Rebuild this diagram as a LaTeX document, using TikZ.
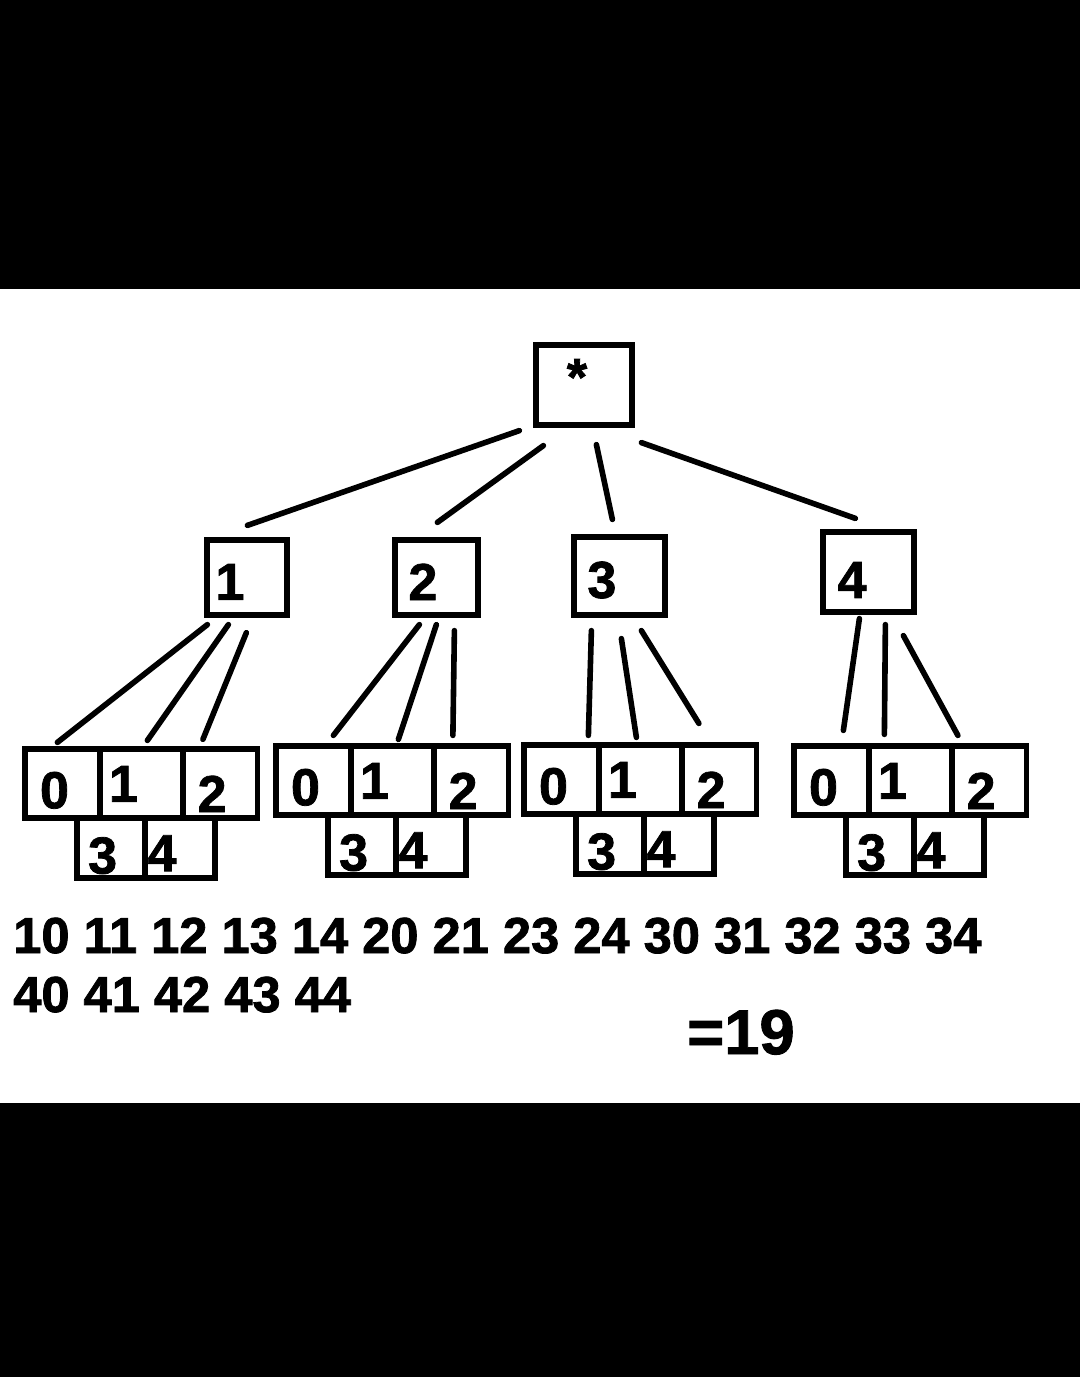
\documentclass[tikz,border=0pt]{standalone}
\usepackage{fontspec}
\setmainfont{Liberation Sans}[BoldFeatures={FakeBold=1.5}]
\usetikzlibrary{calc}

\begin{document}
\begin{tikzpicture}[
    x=0.025cm, y=-0.025cm,
    box/.style={draw, line width=0.13cm, inner sep=0pt},
    toprow/.style={box, minimum height=1.725cm},
    botrow/.style={box, minimum height=1.5cm},
    lbl/.style={inner sep=0pt, font=\bfseries\fontsize{37}{40}\selectfont},
    l0/.style={lbl, xshift=-0.2cm, yshift=-0.17cm},
    l1/.style={lbl, xshift=-0.45cm, yshift=-0.01cm},
    l2/.style={lbl, xshift=-0.21cm, yshift=-0.26cm},
    l3/.style={lbl, xshift=-0.21cm, yshift=-0.19cm},
    l4/.style={lbl, xshift=-0.45cm, yshift=-0.13cm},
    numrow/.style={anchor=base west, inner sep=0pt, font=\bfseries\fontsize{36}{40}\selectfont},
    conn/.style={line width=0.14cm, line cap=round}
]
\useasboundingbox (0,0) rectangle (1080,1377);
\fill[black] (0,0) rectangle (1080,1377);
\fill[white] (0,289) rectangle (1080,1103);

% root and first level
\node[box, minimum width=2.4cm, minimum height=2cm, label={[lbl, xshift=-0.175cm, yshift=0.2cm]center:*}] (root) at (584,385) {};
\node[box, minimum width=2cm, minimum height=1.875cm, label={[lbl, xshift=-0.425cm, yshift=-0.11cm]center:1}] (b1) at (247,577.5) {};
\node[box, minimum width=2.075cm, minimum height=1.875cm, label={[lbl, xshift=-0.34cm, yshift=-0.11cm]center:2}] (b2) at (436.5,577.5) {};
\node[box, minimum width=2.275cm, minimum height=1.95cm, label={[lbl, xshift=-0.44cm, yshift=-0.1cm]center:3}] (b3) at (619.5,576) {};
\node[box, minimum width=2.275cm, minimum height=2cm, label={[lbl, xshift=-0.41cm, yshift=-0.2cm]center:4}] (b4) at (868.5,572) {};

% second level, group 1
\node[toprow, minimum width=1.875cm, label={[l0]center:0}] (c10) at (62.5,783.5) {};
\node[toprow, minimum width=2.075cm, label={[l1]center:1}] (c11) at (141.5,783.5) {};
\node[toprow, minimum width=1.85cm, label={[l2]center:2}] (c12) at (220.5,783.5) {};
\node[botrow, minimum width=1.7cm, label={[l3]center:3}] (c13) at (111,848) {};
\node[botrow, minimum width=1.75cm, label={[l4]center:4}] (c14) at (180,848) {};

% group 2
\node[toprow, minimum width=1.875cm, label={[l0]center:0}] (c20) at (313.5,780.5) {};
\node[toprow, minimum width=2.075cm, label={[l1]center:1}] (c21) at (392.5,780.5) {};
\node[toprow, minimum width=1.85cm, label={[l2]center:2}] (c22) at (471.5,780.5) {};
\node[botrow, minimum width=1.7cm, label={[l3]center:3}] (c23) at (362,845) {};
\node[botrow, minimum width=1.75cm, label={[l4]center:4}] (c24) at (431,845) {};

% group 3
\node[toprow, minimum width=1.875cm, label={[l0]center:0}] (c30) at (561.5,779.5) {};
\node[toprow, minimum width=2.075cm, label={[l1]center:1}] (c31) at (640.5,779.5) {};
\node[toprow, minimum width=1.85cm, label={[l2]center:2}] (c32) at (719.5,779.5) {};
\node[botrow, minimum width=1.7cm, label={[l3]center:3}] (c33) at (610,844) {};
\node[botrow, minimum width=1.75cm, label={[l4]center:4}] (c34) at (679,844) {};

% group 4
\node[toprow, minimum width=1.875cm, label={[l0]center:0}] (c40) at (831.5,780.5) {};
\node[toprow, minimum width=2.075cm, label={[l1]center:1}] (c41) at (910.5,780.5) {};
\node[toprow, minimum width=1.85cm, label={[l2]center:2}] (c42) at (989.5,780.5) {};
\node[botrow, minimum width=1.7cm, label={[l3]center:3}] (c43) at (880,845) {};
\node[botrow, minimum width=1.75cm, label={[l4]center:4}] (c44) at (949,845) {};

% listing
\node[numrow] (row1) at (13,953) {10 11 12 13 14 20 21 23 24 30 31 32 33 34};
\node[numrow] (row2) at (13,1012) {40 41 42 43 44};
\node[anchor=base, inner sep=0pt, font=\bfseries\fontsize{45}{50}\selectfont] (total) at (741,1054) {=19};

% connectors
\draw[conn] ($(root.south west)+(-14,3)$) -- ($(b1.north west)+(43,-12)$);
\draw[conn] ($(root.south west)+(10,18)$) -- ($(b2.north west)+(45,-15)$);
\draw[conn] ($(root.south west)+(63,17)$) -- ($(b3.north west)+(41,-15)$);
\draw[conn] ($(root.south west)+(108,15)$) -- ($(b4.north west)+(35,-11)$);

\draw[conn] ($(b1.south west)+(3,7)$) -- ($(c10.north west)+(35,-4)$);
\draw[conn] ($(b1.south west)+(24,7)$) -- ($(c11.north west)+(50,-6)$);
\draw[conn] ($(b1.south west)+(42,15)$) -- ($(c12.north west)+(22,-7)$);

\draw[conn] ($(b2.south west)+(27,7)$) -- ($(c20.north west)+(60,-8)$);
\draw[conn] ($(b2.south west)+(44,7)$) -- ($(c21.north west)+(50,-4)$);
\draw[conn] ($(b2.south west)+(62,13)$) -- ($(c22.north west)+(21,-8)$);

\draw[conn] ($(b3.south west)+(20,13)$) -- ($(c30.north west)+(67,-7)$);
\draw[conn] ($(b3.south west)+(50,21)$) -- ($(c31.north west)+(40,-5)$);
\draw[conn] ($(b3.south west)+(70,13)$) -- ($(c32.north west)+(19,-19)$);

\draw[conn] ($(b4.south west)+(39,4)$) -- ($(c40.north west)+(52,-13)$);
\draw[conn] ($(b4.south west)+(65,10)$) -- ($(c41.north west)+(18,-9)$);
\draw[conn] ($(b4.south west)+(83,21)$) -- ($(c42.north west)+(8,-8)$);
\end{tikzpicture}
\end{document}
